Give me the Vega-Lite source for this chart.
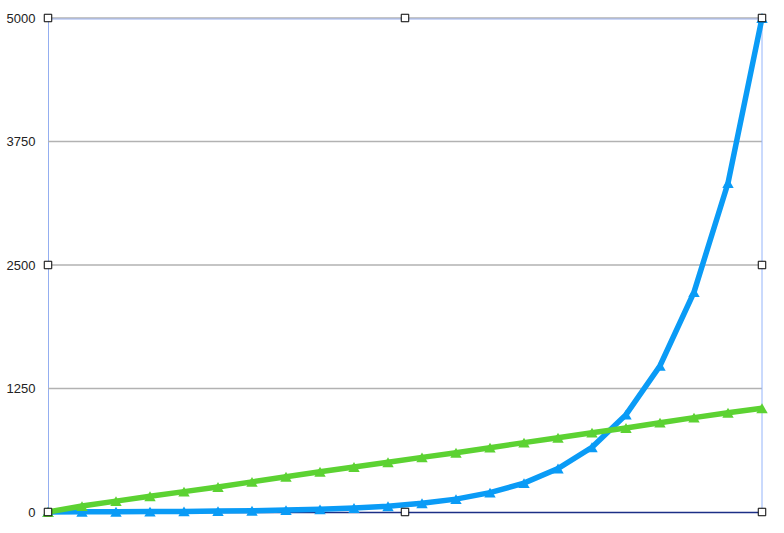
{
  "$schema": "https://vega.github.io/schema/vega-lite/v6.json",
  "width": 714,
  "height": 494,
  "autosize": "none",
  "padding": {"left": 48, "top": 18, "right": 22, "bottom": 21},
  "config": {
    "view": {"stroke": null},
    "font": "Liberation Sans",
    "axisY": {"grid": false, "domainColor": "#94aef0", "domainWidth": 1, "ticks": false, "labelPadding": 13, "labelFontSize": 13, "labelColor": "#222222", "format": "d"},
    "axisX": {"labels": false, "ticks": false, "grid": false, "domainColor": "#1c2f86", "domainWidth": 1.5}
  },
  "datasets": {
    "series": [
      {"i": 0, "s": "blue", "v": 0}, {"i": 1, "s": "blue", "v": 2}, {"i": 2, "s": "blue", "v": 3},
      {"i": 3, "s": "blue", "v": 4}, {"i": 4, "s": "blue", "v": 6}, {"i": 5, "s": "blue", "v": 9},
      {"i": 6, "s": "blue", "v": 13}, {"i": 7, "s": "blue", "v": 19}, {"i": 8, "s": "blue", "v": 27},
      {"i": 9, "s": "blue", "v": 40}, {"i": 10, "s": "blue", "v": 58}, {"i": 11, "s": "blue", "v": 88},
      {"i": 12, "s": "blue", "v": 130}, {"i": 13, "s": "blue", "v": 196}, {"i": 14, "s": "blue", "v": 292},
      {"i": 15, "s": "blue", "v": 440}, {"i": 16, "s": "blue", "v": 655}, {"i": 17, "s": "blue", "v": 985},
      {"i": 18, "s": "blue", "v": 1480}, {"i": 19, "s": "blue", "v": 2225}, {"i": 20, "s": "blue", "v": 3330},
      {"i": 21, "s": "blue", "v": 5000},
      {"i": 0, "s": "green", "v": 0}, {"i": 1, "s": "green", "v": 60}, {"i": 2, "s": "green", "v": 110},
      {"i": 3, "s": "green", "v": 160}, {"i": 4, "s": "green", "v": 206}, {"i": 5, "s": "green", "v": 253},
      {"i": 6, "s": "green", "v": 305}, {"i": 7, "s": "green", "v": 357}, {"i": 8, "s": "green", "v": 408},
      {"i": 9, "s": "green", "v": 455}, {"i": 10, "s": "green", "v": 503}, {"i": 11, "s": "green", "v": 553},
      {"i": 12, "s": "green", "v": 600}, {"i": 13, "s": "green", "v": 651}, {"i": 14, "s": "green", "v": 702},
      {"i": 15, "s": "green", "v": 752}, {"i": 16, "s": "green", "v": 803}, {"i": 17, "s": "green", "v": 850},
      {"i": 18, "s": "green", "v": 904}, {"i": 19, "s": "green", "v": 955}, {"i": 20, "s": "green", "v": 1005},
      {"i": 21, "s": "green", "v": 1050}
    ],
    "handles": [
      {"i": 0, "v": 0}, {"i": 10.5, "v": 0}, {"i": 21, "v": 0},
      {"i": 0, "v": 2500}, {"i": 21, "v": 2500},
      {"i": 0, "v": 5000}, {"i": 10.5, "v": 5000}, {"i": 21, "v": 5000}
    ]
  },
  "layer": [
    {
      "data": {"values": [{"v": 1250}, {"v": 2500}, {"v": 3750}, {"v": 5000}]},
      "mark": {"type": "rule", "color": "#b2b2b2", "strokeWidth": 1.3},
      "encoding": {"y": {"field": "v", "type": "quantitative"}}
    },
    {
      "data": {"values": [{"v": 5000}]},
      "mark": {"type": "rule", "color": "#9ab0ee", "strokeWidth": 1, "yOffset": 1},
      "encoding": {"y": {"field": "v", "type": "quantitative"}}
    },
    {
      "data": {"values": [{"i": 21}]},
      "mark": {"type": "rule", "color": "#94b4fa", "strokeWidth": 1},
      "encoding": {"x": {"field": "i", "type": "quantitative"}}
    },
    {
      "data": {"name": "series"},
      "mark": {"type": "line", "strokeWidth": 5.5, "clip": false},
      "encoding": {
        "x": {"field": "i", "type": "quantitative", "scale": {"domain": [0, 21], "nice": false, "zero": false},
              "axis": {"title": null}},
        "y": {"field": "v", "type": "quantitative", "scale": {"domain": [0, 5000], "nice": false},
              "axis": {"title": null, "values": [0, 1250, 2500, 3750, 5000]}},
        "color": {"field": "s", "type": "nominal", "legend": null,
                  "scale": {"domain": ["green", "blue"], "range": ["#5cd232", "#0a9bf6"]}},
        "order": {"field": "i"},
        "detail": {"field": "s"}
      }
    },
    {
      "data": {"name": "series"},
      "mark": {"type": "point", "shape": "triangle-up", "filled": true, "size": 130, "opacity": 1, "clip": false},
      "encoding": {
        "x": {"field": "i", "type": "quantitative"},
        "y": {"field": "v", "type": "quantitative"},
        "color": {"field": "s", "type": "nominal", "legend": null}
      }
    },
    {
      "data": {"name": "handles"},
      "mark": {"type": "point", "shape": "square", "filled": true, "fill": "white", "stroke": "black", "strokeWidth": 1, "size": 56, "opacity": 1, "clip": false},
      "encoding": {
        "x": {"field": "i", "type": "quantitative"},
        "y": {"field": "v", "type": "quantitative"}
      }
    }
  ]
}
